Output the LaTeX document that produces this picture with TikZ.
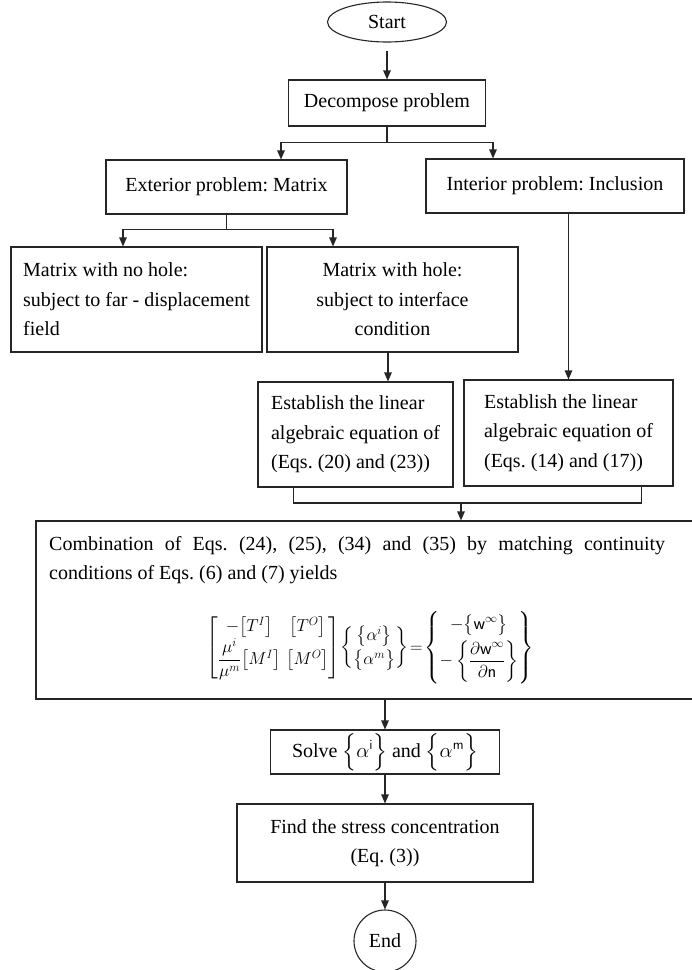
\documentclass[tikz,border=0pt]{standalone}
\usepackage{amsmath}
\usepackage{fontspec}
\setmainfont{Liberation Serif}
\usetikzlibrary{arrows.meta,shapes.geometric}
\tikzset{
	box/.style={draw=black!85, line width=1.1pt, rectangle, inner sep=0pt, align=center, font=\fontsize{20}{29.5}\selectfont\frenchspacing},
	lbox/.style={box, align=left},
	link/.style={draw=black!85, line width=1.1pt},
	flow/.style={link, -{Triangle[length=9pt,width=7.5pt]}}
}

\begin{document}
\begin{tikzpicture}[x=1pt, y=-1pt]
			%%%%% START %%%%%
			\useasboundingbox (0, 0) rectangle (692, 970);
			
			\node[box, ellipse, minimum width=119pt, minimum height=40pt] (start) at (387, 22) {Start};
			\node[box, minimum width=197pt, minimum height=46pt] (decomp) at (387, 103) {Decompose problem};
			
			\node[box, minimum width=241pt, minimum height=54pt] (ext) at (226.5, 187) {Exterior problem: Matrix};
			\node[box, minimum width=258pt, minimum height=54pt] (int) at (555, 186) {Interior problem: Inclusion};
			
			\node[lbox, minimum width=251pt, minimum height=105pt] (nohole) at (136.5, 299.5) {Matrix with no hole:\\subject to far - displacement\\field};
			\node[box, minimum width=251pt, minimum height=105pt] (hole) at (392.5, 299.5) {Matrix with hole:\\subject to interface\\condition};
			
			\node[lbox, minimum width=195pt, minimum height=105pt] (estA) at (355.5, 434.5) {Establish the linear\\algebraic equation of\\(Eqs. (20) and (23))};
			\node[lbox, minimum width=209pt, minimum height=106pt] (estB) at (568.5, 433) {Establish the linear\\algebraic equation of\\(Eqs. (14) and (17))};
			
			\node[box, minimum width=659pt, minimum height=178pt] (comb) at (365.5, 610) {};
			\node[font=\fontsize{20}{29.5}\selectfont\frenchspacing, text width=616pt, align=justify, inner sep=0pt, anchor=north west] (combtxt) at (49, 536) {Combination of Eqs. (24), (25), (34) and (35) by matching continuity\linebreak conditions of Eqs. (6) and (7) yields};
			\node[font=\fontsize{18}{22}\selectfont, inner sep=0pt] (eqn) at (370, 648) {\setlength\arraycolsep{3pt}$\displaystyle
				\begin{bmatrix} -\bigl[T^{I}\bigr] & \bigl[T^{O}\bigr] \\ \dfrac{\mu^{i}}{\mu^{m}}\bigl[M^{I}\bigr] & \bigl[M^{O}\bigr] \end{bmatrix}
				\!\begin{Bmatrix} \bigl\{\alpha^{i}\bigr\} \\[2pt] \bigl\{\alpha^{m}\bigr\} \end{Bmatrix}
				\!=\!
				\begin{Bmatrix} -\bigl\{\mathsf{w}^{\infty}\bigr\} \\[5pt] -\left\{\dfrac{\partial\mathsf{w}^{\infty}}{\partial\mathsf{n}}\right\} \end{Bmatrix}$};
			
			\node[box, minimum width=229pt, minimum height=44pt] (solve) at (385, 752) {Solve $\Bigl\{\alpha^{\mathsf{i}}\Bigr\}$ and $\Bigl\{\alpha^{\mathsf{m}}\Bigr\}$};
			\node[box, minimum width=296pt, minimum height=78pt] (find) at (385, 843) {Find the stress concentration\\(Eq. (3))};
			\node[box, circle, minimum size=62pt] (end) at (385, 941) {End};
			
			% arrows
			\draw[flow] ([yshift=-8pt]start.south) -- (decomp.north);
			\draw[link] (decomp.south) -- ++(0, 16) coordinate (split);
			\draw[flow] (split) -| ([xshift=54.5pt]ext.north);
			\draw[flow] (split) -| ([xshift=-62pt]int.north);
			
			\draw[link] (ext.south) -- ++(0, 15) coordinate (split2);
			\draw[flow] (split2) -| ([xshift=-13.5pt]nohole.north);
			\draw[flow] (split2) -| ([xshift=-59.5pt]hole.north);
			
			\draw[flow] ([xshift=-4.5pt]hole.south) -- ([xshift=-4.5pt]hole.south |- estA.north);
			\draw[flow] (int.south -| estB.north) -- (estB.north);
			
			\coordinate (join) at (461, 503);
			\draw[link] ([xshift=36pt]estA.south west) |- (join);
			\draw[link] ([xshift=-32pt]estB.south east) |- (join);
			\draw[flow] (join) -- (join |- comb.north);
			
			\draw[flow] (comb.south -| solve.north) -- (solve.north);
			\draw[flow] (solve.south) -- (find.north);
			\draw[flow] (find.south) -- (end.north);
			
			%%%%% END %%%%%
\end{tikzpicture}
\end{document}
